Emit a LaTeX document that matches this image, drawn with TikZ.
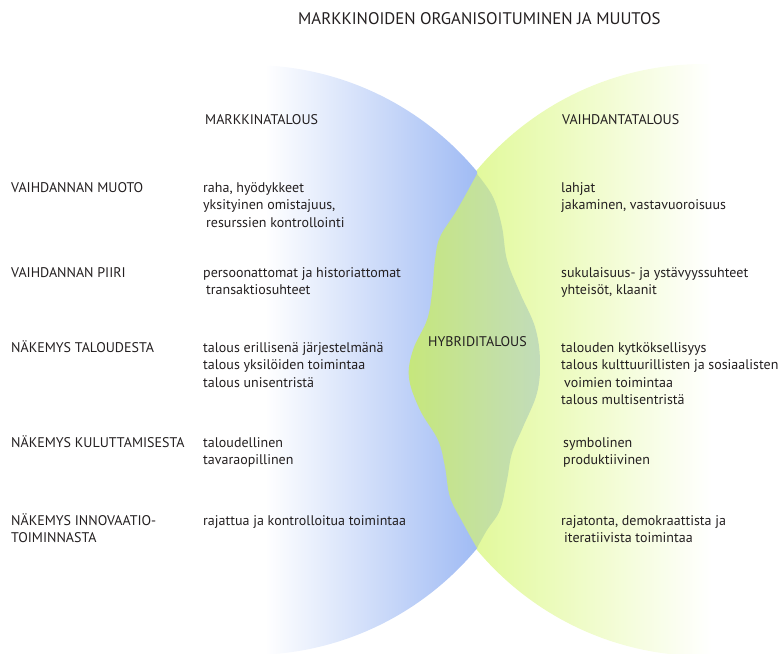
\documentclass[tikz,border=0pt]{standalone}
\usepackage{fontspec}
\setmainfont{PT Sans}
\definecolor{bluec}{HTML}{A0BBF4}
\definecolor{greenc}{HTML}{E2F99C}
\definecolor{hybl}{HTML}{C6E77C}
\definecolor{hybr}{HTML}{C2DCBA}
\definecolor{txtc}{HTML}{231F20}
\begin{document}
\begin{tikzpicture}[x=1bp,y=-1bp,
  lbl/.style={anchor=base west, inner sep=0pt, text=txtc, font=\fontsize{14bp}{17bp}\selectfont},
  ttl/.style={anchor=base west, inner sep=0pt, text=txtc, font=\fontsize{16.8bp}{20bp}\selectfont}]
\useasboundingbox (0,0) rectangle (781,654);
% green circle (Vaihdantatalous)
\begin{scope}
  \clip (704,360) circle[radius=296bp];
  \fill[greenc] (400,40) rectangle (477,680);
  \shade[left color=greenc, right color=white] (477,40) rectangle (712,680);
\end{scope}
% blue circle (Markkinatalous)
\begin{scope}
  \clip (250,360) circle[radius=295bp];
  \clip (0,0) rectangle (477,654);
  \shade[left color=white, right color=bluec] (265,40) rectangle (477,680);
\end{scope}
% hybrid blob
\shade[left color=hybl, right color=hybr]
  plot[smooth, tension=0.6] coordinates {(477,174) (493,197) (502,227) (507,260) (520,293) (535,327) (540,360) (537,393) (523,427) (512,453) (507,480) (500,510) (487,530) (477,548)}
  -- plot[smooth, tension=0.6] coordinates {(477,548) (463,523) (450,497) (445,467) (438,440) (420,410) (409,378) (413,350) (427,320) (432,293) (435,260) (440,237) (457,210) (477,174)}
  -- cycle;
% texts
\node[ttl] (title) at (298,25) {MARKKINOIDEN ORGANISOITUMINEN JA MUUTOS};
\node[lbl] (mt) at (205,125) {MARKKINATALOUS};
\node[lbl] (vt) at (562,125) {VAIHDANTATALOUS};
\node[lbl] (hy) at (428,346) {HYBRIDITALOUS};
% row labels
\node[lbl] (l1) at (11,192) {VAIHDANNAN MUOTO};
\node[lbl] (l2) at (11,277) {VAIHDANNAN PIIRI};
\node[lbl] (l3) at (11,352) {NÄKEMYS TALOUDESTA};
\node[lbl] (l4) at (11,447) {NÄKEMYS KULUTTAMISESTA};
\node[lbl] (l5a) at (11,525) {NÄKEMYS INNOVAATIO-};
\node[lbl] (l5b) at (11,542) {TOIMINNASTA};
% market column
\node[lbl] (m1a) at (203,192) {raha, hyödykkeet};
\node[lbl] (m1b) at (203,209.5) {yksityinen omistajuus,};
\node[lbl] (m1c) at (206,227) {resurssien kontrollointi};
\node[lbl] (m2a) at (203,277) {persoonattomat ja historiattomat};
\node[lbl] (m2b) at (206,294.5) {transaktiosuhteet};
\node[lbl] (m3a) at (203,352) {talous erillisenä järjestelmänä};
\node[lbl] (m3b) at (203,369.5) {talous yksilöiden toimintaa};
\node[lbl] (m3c) at (203,387) {talous unisentristä};
\node[lbl] (m4a) at (203,447) {taloudellinen};
\node[lbl] (m4b) at (203,464.5) {tavaraopillinen};
\node[lbl] (m5a) at (203,525) {rajattua ja kontrolloitua toimintaa};
% exchange column
\node[lbl] (v1a) at (561,192) {lahjat};
\node[lbl] (v1b) at (561,209.5) {jakaminen, vastavuoroisuus};
\node[lbl] (v2a) at (561,277) {sukulaisuus- ja ystävyyssuhteet};
\node[lbl] (v2b) at (561,294.5) {yhteisöt, klaanit};
\node[lbl] (v3a) at (561,352) {talouden kytköksellisyys};
\node[lbl] (v3b) at (561,369.5) {talous kulttuurillisten ja sosiaalisten};
\node[lbl] (v3c) at (564,387) {voimien toimintaa};
\node[lbl] (v3d) at (561,404.5) {talous multisentristä};
\node[lbl] (v4a) at (563,447) {symbolinen};
\node[lbl] (v4b) at (563,464.5) {produktiivinen};
\node[lbl] (v5a) at (561,525) {rajatonta, demokraattista ja};
\node[lbl] (v5b) at (564,542) {iteratiivista toimintaa};
\end{tikzpicture}
\end{document}
